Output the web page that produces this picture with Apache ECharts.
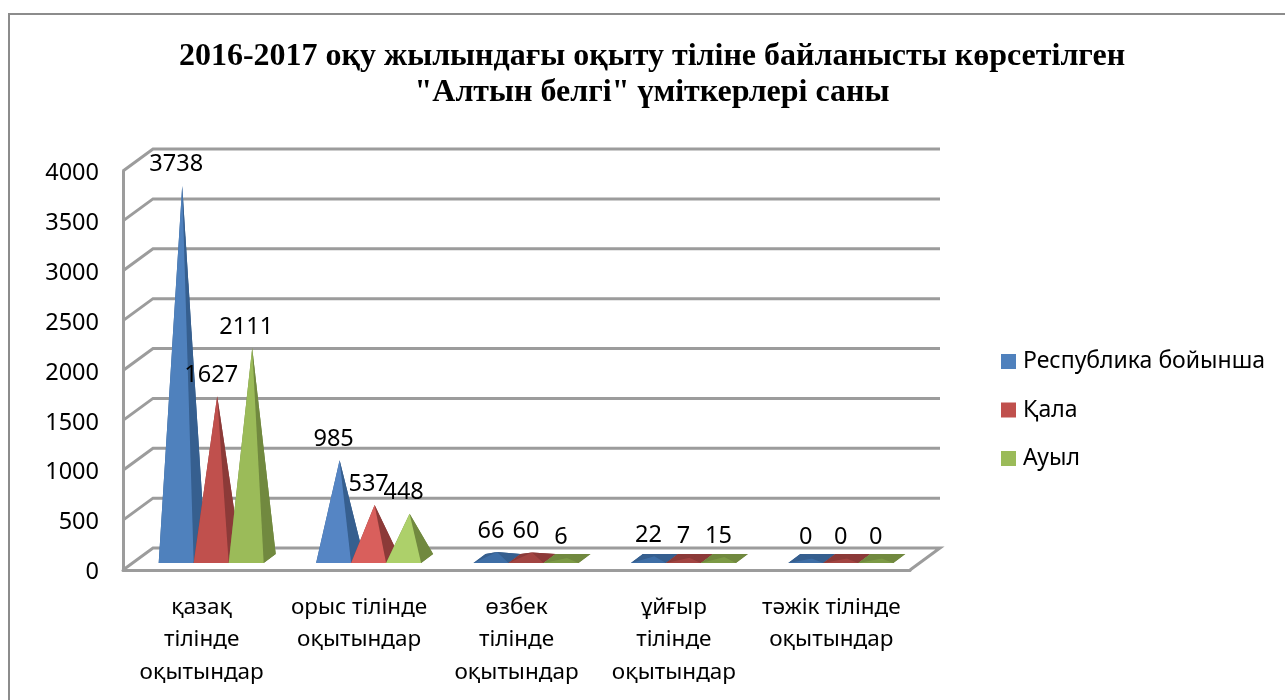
<!DOCTYPE html>
<html lang="kk">
<head>
    <meta charset="UTF-8">
    <script src="https://cdn.jsdelivr.net/npm/echarts@6/dist/echarts.min.js"></script>
    <title>Алтын белгі</title>
</head>
<style>
    body{
        margin: 0;
        padding: 0;
        overflow: hidden;
        background: #fff;
    }
</style>
<body>
<div id="main" style="width: 1285px;height:700px"></div>
</body>
<script>
    var categories = ['қазақ\nтілінде\nоқытындар', 'орыс тілінде\nоқытындар', 'өзбек\nтілінде\nоқытындар', 'ұйғыр\nтілінде\nоқытындар', 'тәжік тілінде\nоқытындар'];
    var seriesNames = ['Республика бойынша', 'Қала', 'Ауыл'];
    var republic = [3738, 985, 66, 22, 0];
    var city = [1627, 537, 60, 7, 0];
    var rural = [2111, 448, 6, 15, 0];
    var yTicks = [0, 500, 1000, 1500, 2000, 2500, 3000, 3500, 4000];

    var font = '"Noto Sans", sans-serif';
    // colours per series: legend/tall, short (lit), flat, side face
    var colors = [
        {main: '#4f81bd', lit: '#5585c4', flat: '#3e6ea6', side: '#365f8f'},
        {main: '#c0504d', lit: '#d95f5c', flat: '#a24441', side: '#8c3a38'},
        {main: '#9bbb59', lit: '#add06a', flat: '#7c9a45', side: '#71893f'}
    ];
    var wallColor = '#9c9c9c';
    // perspective offsets of the 3D box, in px
    var wallDx = 30, wallDy = -22;      // front edge -> back wall
    var baseDx = 9.5, baseDy = -7;      // front edge -> front of pyramid base
    var deepDx = 12, deepDy = -9;       // pyramid base depth
    var barRatio = 35 / 157.4;

    function poly(points, fill) {
        return {type: 'polygon', shape: {points: points}, style: {fill: fill}};
    }

    // pyramid for one value
    function pyramid(si) {
        return function (params, api) {
            var i = api.value(0);
            var v = api.value(1);
            var c = colors[si];
            var w = api.size([1, 0])[0] * barRatio;
            var zero = api.coord([i, 0]);
            var top = api.coord([i, v]);
            var left = zero[0] + baseDx - 1.5 * w + si * w;
            var y0 = zero[1] + baseDy;
            var fl = [left, y0], fr = [left + w, y0];
            var bl = [left + deepDx, y0 + deepDy], br = [left + w + deepDx, y0 + deepDy];
            var apex = [left + w / 2 + deepDx / 2, top[1] + baseDy + deepDy / 2];
            var front = v >= 1000 ? c.main : (v >= 100 ? c.lit : c.flat);
            return {
                type: 'group',
                children: [
                    poly([fl, fr, br, bl], c.side),
                    poly([fl, bl, apex], c.side),
                    poly([bl, br, apex], c.side),
                    poly([fr, br, apex], c.side),
                    poly([fl, fr, apex], front)
                ]
            };
        };
    }

    function seriesData(values) {
        return values.map(function (v, i) { return [i, v]; });
    }

    function renderWall(params, api) {
        var v = api.value(1);
        var rect = params.coordSys;
        var p = api.coord([0, v]);
        var x0 = rect.x, x1 = rect.x + rect.width;
        var lineStyle = {stroke: wallColor, lineWidth: 3, fill: 'none'};
        var pts = [[x0, p[1]], [x0 + wallDx, p[1] + wallDy], [x1 + wallDx, p[1] + wallDy]];
        if (v === 0) {
            pts.push([x1, p[1]]);
        }
        return {type: 'polyline', shape: {points: pts}, style: lineStyle};
    }

    var allValues = [republic, city, rural];
    var labelData = [];
    allValues.forEach(function (values, si) {
        values.forEach(function (v, i) {
            labelData.push([i, v, si]);
        });
    });

    function renderLabel(params, api) {
        var i = api.value(0), v = api.value(1), si = api.value(2);
        var w = api.size([1, 0])[0] * barRatio;
        var zero = api.coord([i, 0]);
        var top = api.coord([i, v]);
        var left = zero[0] + baseDx - 1.5 * w + si * w;
        return {
            type: 'text',
            style: {
                text: String(v),
                x: left + w / 2,
                y: top[1] + baseDy + deepDy / 2 - 21,
                fill: '#000',
                font: '23.5px ' + font,
                align: 'center',
                verticalAlign: 'middle'
            }
        };
    }

    var chart = echarts.init(document.getElementById('main'));
    var option = {
        animation: false,
        backgroundColor: '#fff',
        title: {
            text: '2016-2017 оқу жылындағы оқыту тіліне байланысты көрсетілген\n"Алтын белгі" үміткерлері саны',
            left: 647,
            top: 34,
            textAlign: 'center',
            textStyle: {
                fontFamily: '"Liberation Serif", serif',
                fontWeight: 'bold',
                fontSize: 32,
                lineHeight: 36,
                color: '#000'
            }
        },
        graphic: [{
            type: 'rect',
            shape: {x: 9, y: 14, width: 1320, height: 730},
            style: {fill: 'none', stroke: '#8c8c8c', lineWidth: 2}
        }],
        legend: {
            data: seriesNames,
            orient: 'vertical',
            left: 1001,
            top: 350,
            padding: 0,
            icon: 'rect',
            itemWidth: 15,
            itemHeight: 15,
            itemGap: 25.5,
            textStyle: {fontFamily: font, fontSize: 23, color: '#000', padding: [0, 0, 0, 2]}
        },
        grid: {left: 123, right: 375, top: 171, bottom: 130},
        xAxis: {
            type: 'category',
            data: categories,
            axisLine: {lineStyle: {color: wallColor, width: 3}},
            axisTick: {show: false},
            axisLabel: {
                interval: 0,
                color: '#000',
                fontFamily: font,
                fontSize: 22.5,
                lineHeight: 32.5,
                margin: 21
            }
        },
        yAxis: {
            type: 'value',
            min: 0,
            max: 4000,
            interval: 500,
            axisLine: {show: true, lineStyle: {color: wallColor, width: 3}},
            axisTick: {show: false},
            splitLine: {show: false},
            axisLabel: {
                margin: 24,
                formatter: function (v) { return '{t|' + v + '}'; },
                rich: {
                    // top padding nudges the numbers down off the tick
                    t: {color: '#000', fontFamily: font, fontSize: 23.5, padding: [5, 0, 0, 0]}
                }
            }
        },
        series: [
            {type: 'custom', name: 'wall', silent: true, z: 1, data: yTicks.map(function (t) { return [0, t]; }), renderItem: renderWall},
            {type: 'custom', name: seriesNames[0], z: 2, itemStyle: {color: colors[0].main}, data: seriesData(republic), renderItem: pyramid(0)},
            {type: 'custom', name: seriesNames[1], z: 3, itemStyle: {color: colors[1].main}, data: seriesData(city), renderItem: pyramid(1)},
            {type: 'custom', name: seriesNames[2], z: 4, itemStyle: {color: colors[2].main}, data: seriesData(rural), renderItem: pyramid(2)},
            {type: 'custom', name: 'labels', silent: true, z: 5, data: labelData, renderItem: renderLabel}
        ]
    };
    chart.setOption(option);
</script>
</html>
